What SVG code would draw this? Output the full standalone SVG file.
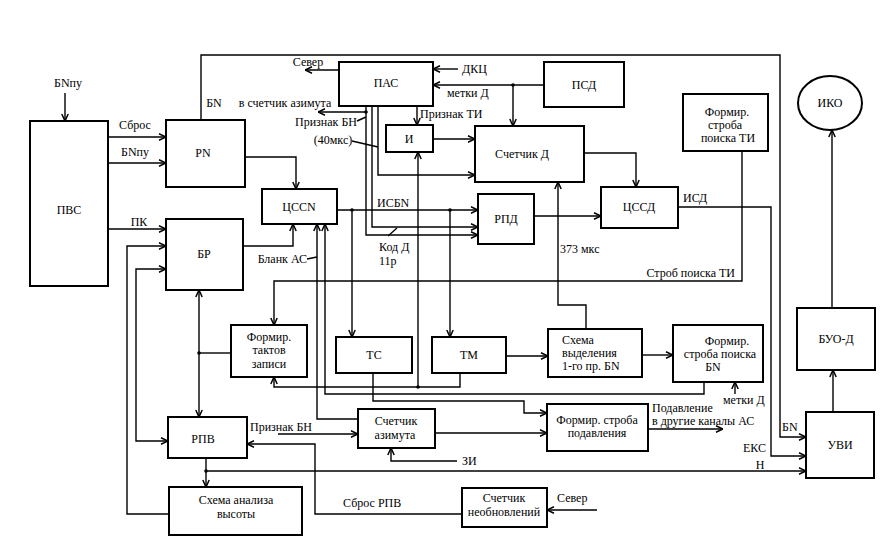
<svg xmlns="http://www.w3.org/2000/svg" width="891" height="546" viewBox="0 0 891 546" font-family="Liberation Serif, Times New Roman, serif">
<style>
.b{fill:#fff;stroke:#000;stroke-width:2}
.c path{fill:none;stroke:#000;stroke-width:1.4}
.c path.a{marker-end:url(#ar)}
.c path.s{marker-start:url(#ar)}
text{font-family:"Liberation Serif","Times New Roman",serif;font-size:12px;fill:#000}
.m{text-anchor:middle}
.e{text-anchor:end}
.d{fill:#000;stroke:none}
</style>
<defs>
<marker id="ar" viewBox="0 0 8 8" refX="8" refY="4" markerWidth="8" markerHeight="8" markerUnits="userSpaceOnUse" orient="auto-start-reverse">
<path d="M1,0.8 L8,4 L1,7.2" fill="none" stroke="#000" stroke-width="1.5"/>
</marker>
</defs>
<rect width="891" height="546" fill="#fff"/>
<g class="c" id="connectors">
<path class="a" d="M65,93 V121"/>
<path class="a" d="M108,137 H166"/>
<path class="a" d="M108,163 H166"/>
<path class="a" d="M108,229 H166"/>
<path class="a" d="M201,120 V55 H780 V437 H806"/>
<path class="a" d="M245,157 H296 V189"/>
<path class="a" d="M243,246 H293 V224"/>
<path class="a" d="M358,419 H317 V224"/>
<path class="a" d="M704,382 V394 H325 V224"/>
<path class="a" d="M337,210 H478"/>
<path class="a" d="M352,210 V337"/>
<path class="a" d="M450,210 V337"/>
<path class="a" d="M339,70 H305"/>
<path class="a" d="M458,69 H433"/>
<path class="a" d="M544,85 H433"/>
<path class="a" d="M513,85 V126"/>
<path class="a" d="M417,106 V125"/>
<path class="a" d="M433,139 H475"/>
<path class="a" d="M378,106 V175 H475"/>
<path class="a" d="M372,106 V227 H478"/>
<path class="a" d="M366,106 V235 H478"/>
<path class="a" d="M366,112 H318"/>
<path d="M357,121 L366,117"/>
<path d="M352,141 L378,147"/>
<path d="M388,236 L397,228"/>
<path d="M307,259 L317,257"/>
<path class="a" d="M584,153 H636 V187"/>
<path class="a" d="M534,216 H601"/>
<path class="a" d="M678,207 H771 V456 H806"/>
<path class="a" d="M742,151 V281 H274 V325"/>
<path class="a" d="M586,329 V305 H558 V182"/>
<path class="a" d="M506,356 H548"/>
<path class="a" d="M642,355 H673"/>
<path class="a" d="M735,394 V382"/>
<path class="a" d="M460,373 V387 H274 V377"/>
<path class="a" d="M418,387 V152"/>
<path d="M231,353 H199"/>
<path class="a" d="M199,353 V290"/>
<path class="a" d="M199,353 V417"/>
<path class="a s" d="M166,269 H136 V441 H168"/>
<path class="a" d="M169,514 H127 V246 H166"/>
<path class="a" d="M206,458 V487"/>
<path class="a" d="M206,471 H806"/>
<path class="a" d="M278,434 H358"/>
<path class="a" d="M462,514 H315 V444 H247"/>
<path class="a" d="M597,510 H547"/>
<path class="a" d="M457,461 H391 V448"/>
<path class="a" d="M435,433 H547"/>
<path class="a" d="M373,373 V401 H524 V413 H547"/>
<path class="a" d="M648,429 H723"/>
<path class="a" d="M833,412 V370"/>
<path class="a" d="M832,308 V130"/>
<circle class="d" cx="352" cy="210" r="1.8"/>
<circle class="d" cx="450" cy="210" r="1.8"/>
<circle class="d" cx="513" cy="85" r="1.8"/>
<circle class="d" cx="366" cy="112" r="1.8"/>
<circle class="d" cx="418" cy="387" r="1.8"/>
<circle class="d" cx="199" cy="353" r="1.8"/>
<circle class="d" cx="206" cy="471" r="1.8"/>
<text class="m" x="68" y="87">БNпу</text>
<text class="m" x="135" y="129">Сброс</text>
<text class="m" x="135" y="156">БNпу</text>
<text class="m" x="139" y="226">ПК</text>
<text class="m" x="214" y="107">БN</text>
<text class="m" x="285" y="107">в счетчик азимута</text>
<text class="m" x="308" y="66">Север</text>
<text class="e" x="357" y="126">Признак БН</text>
<text class="m" x="333" y="144">(40мкс)</text>
<text x="462" y="73">ДКЦ</text>
<text x="447" y="97">метки Д</text>
<text x="420" y="118">Признак ТИ</text>
<text x="377" y="207">ИСБN</text>
<text x="379" y="251">Код Д</text>
<text x="379" y="265">11р</text>
<text class="e" x="307" y="263">Бланк АС</text>
<text x="560" y="253">373 мкс</text>
<text x="683" y="202">ИСД</text>
<text class="e" x="735" y="277">Строб поиска ТИ</text>
<text x="782" y="431">БN</text>
<text class="e" x="766" y="452">ЕКС</text>
<text class="m" x="760" y="469">Н</text>
<text x="723" y="404">метки Д</text>
<text x="652" y="412">Подавление</text>
<text x="652" y="425">в другие каналы АС</text>
<text x="250" y="431">Признак БН</text>
<text x="462" y="465">ЗИ</text>
<text x="343" y="507">Сброс РПВ</text>
<text x="557" y="502">Север</text>
</g>
<g id="pvs"><rect class="b" x="30" y="121" width="78" height="165"/><text class="m" x="69" y="214">ПВС</text></g>
<g id="pn"><rect class="b" x="166" y="120" width="79" height="67"/><text class="m" x="203" y="157">PN</text></g>
<g id="cssn"><rect class="b" x="262" y="189" width="75" height="35"/><text class="m" x="299" y="211">ЦССN</text></g>
<g id="br"><rect class="b" x="166" y="219" width="77" height="71"/><text class="m" x="204" y="258">БР</text></g>
<g id="pas"><rect class="b" x="339" y="62" width="94" height="44"/><text class="m" x="386" y="87">ПАС</text></g>
<g id="psd"><rect class="b" x="544" y="62" width="80" height="45"/><text class="m" x="584" y="89">ПСД</text></g>
<g id="i"><rect class="b" x="386" y="125" width="47" height="27"/><text class="m" x="409" y="143">И</text></g>
<g id="schd"><rect class="b" x="475" y="126" width="109" height="56"/><text class="m" x="522" y="158">Счетчик Д</text></g>
<g id="rpd"><rect class="b" x="478" y="194" width="56" height="50"/><text class="m" x="506" y="223">РПД</text></g>
<g id="cssd"><rect class="b" x="601" y="187" width="77" height="41"/><text class="m" x="639" y="211">ЦССД</text></g>
<g id="fsti"><rect class="b" x="683" y="94" width="85" height="57"/><text class="m" x="727" y="116">Формир.</text><text class="m" x="725" y="129">строба</text><text class="m" x="728" y="142">поиска ТИ</text></g>
<g id="iko"><ellipse cx="830" cy="103" rx="32" ry="27" fill="#fff" stroke="#000" stroke-width="2"/><text class="m" x="830" y="107">ИКО</text></g>
<g id="ftz"><rect class="b" x="231" y="325" width="76" height="52"/><text class="m" x="269" y="341">Формир.</text><text class="m" x="269" y="354">тактов</text><text class="m" x="269" y="368">записи</text></g>
<g id="ts"><rect class="b" x="336" y="337" width="76" height="36"/><text class="m" x="374" y="359">ТС</text></g>
<g id="tm"><rect class="b" x="432" y="337" width="74" height="36"/><text class="m" x="469" y="359">ТМ</text></g>
<g id="sv"><rect class="b" x="548" y="329" width="94" height="48"/><text x="562" y="344">Схема</text><text x="562" y="357">выделения</text><text x="562" y="370">1-го пр. БN</text></g>
<g id="fsbn"><rect class="b" x="673" y="325" width="90" height="57"/><text class="m" x="727" y="345">Формир.</text><text class="m" x="720" y="358">строба поиска</text><text class="m" x="713" y="371">БN</text></g>
<g id="buod"><rect class="b" x="797" y="308" width="78" height="62"/><text class="m" x="836" y="343">БУО-Д</text></g>
<g id="uvi"><rect class="b" x="806" y="412" width="68" height="66"/><text class="m" x="840" y="449">УВИ</text></g>
<g id="rpv"><rect class="b" x="168" y="417" width="79" height="41"/><text class="m" x="203" y="443">РПВ</text></g>
<g id="sa"><rect class="b" x="358" y="409" width="77" height="39"/><text class="m" x="396" y="425">Счетчик</text><text class="m" x="395" y="439">азимута</text></g>
<g id="fsp"><rect class="b" x="547" y="404" width="101" height="47"/><text class="m" x="597" y="424">Формир. строба</text><text class="m" x="597" y="437">подавления</text></g>
<g id="sav"><rect class="b" x="169" y="487" width="133" height="48"/><text class="m" x="236" y="504">Схема анализа</text><text class="m" x="236" y="518">высоты</text></g>
<g id="sn"><rect class="b" x="462" y="488" width="85" height="39"/><text class="m" x="504" y="502">Счетчик</text><text class="m" x="504" y="516">необновлений</text></g>
</svg>
